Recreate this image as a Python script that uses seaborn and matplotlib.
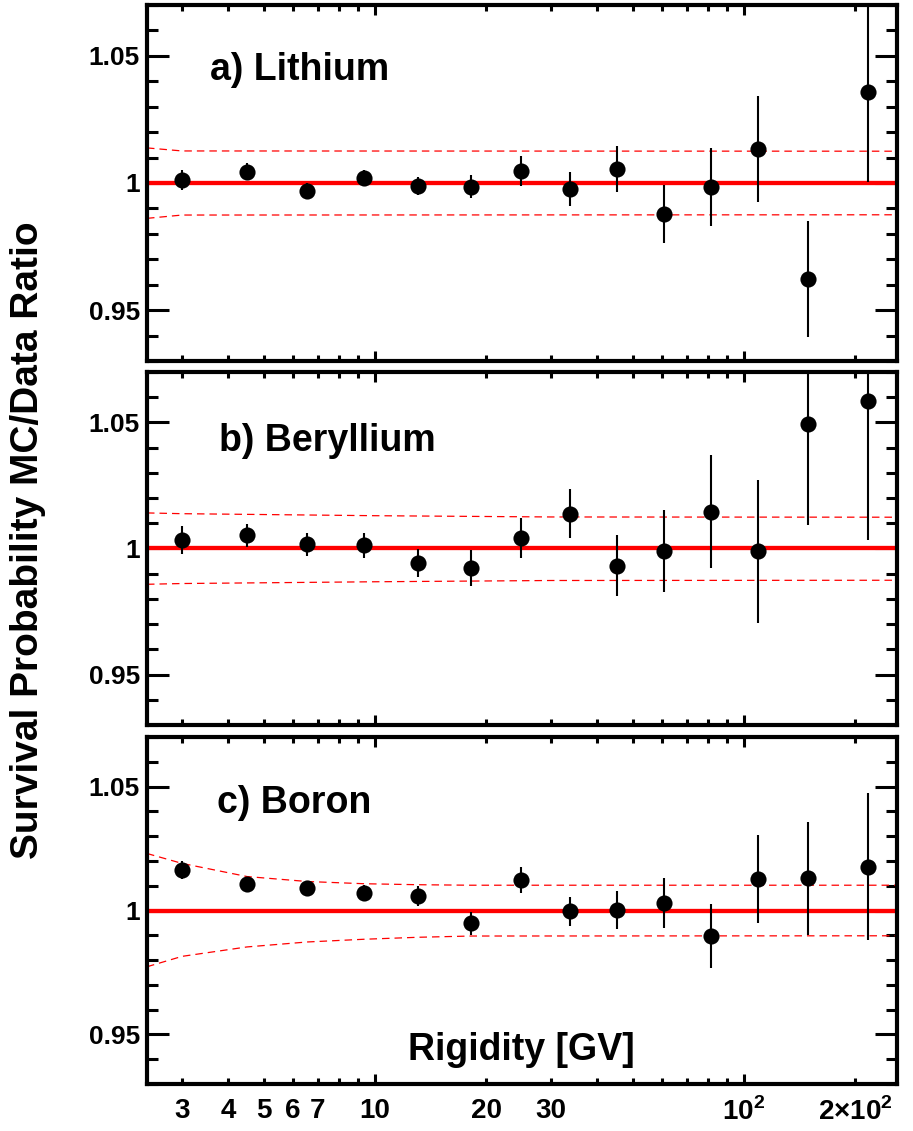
import numpy as np
import pandas as pd
import seaborn as sns
import matplotlib.pyplot as plt
from matplotlib.ticker import FixedLocator, FuncFormatter, MultipleLocator

sns.set_theme(style='ticks')
plt.rcParams['font.family'] = ['Liberation Sans', 'DejaVu Sans']
plt.rcParams['font.weight'] = 'bold'
plt.rcParams['mathtext.fontset'] = 'custom'
plt.rcParams['mathtext.rm'] = 'Liberation Sans:bold'
plt.rcParams['mathtext.bf'] = 'Liberation Sans:bold'
plt.rcParams['text.color'] = 'black'
plt.rcParams['axes.labelcolor'] = 'black'
plt.rcParams['xtick.color'] = 'black'
plt.rcParams['ytick.color'] = 'black'

# rigidity bin centres [GV]
rigidity = [3.0, 4.49, 6.55, 9.35, 13.1, 18.2, 24.9, 33.7, 45.4, 60.7, 81.2, 108.9, 149.6, 216.7]

li_ratio = [1.0012, 1.0045, 0.9969, 1.0021, 0.9988, 0.9985, 1.0047, 0.9978, 1.0055, 0.9878, 0.9983, 1.0134, 0.9622, 1.0359]
li_err = [0.0040, 0.0032, 0.0030, 0.0030, 0.0035, 0.0045, 0.0060, 0.0067, 0.0089, 0.0113, 0.0154, 0.0208, 0.0227, 0.0354]

be_ratio = [1.0033, 1.0052, 1.0017, 1.0012, 0.9942, 0.9922, 1.0042, 1.0138, 0.9932, 0.9991, 1.0146, 0.9989, 1.0495, 1.0584]
be_err = [0.0056, 0.0047, 0.0046, 0.0050, 0.0054, 0.0070, 0.0080, 0.0097, 0.0121, 0.0163, 0.0224, 0.0283, 0.0403, 0.0551]

b_ratio = [1.0164, 1.0106, 1.0091, 1.0072, 1.0059, 0.9948, 1.0122, 0.9996, 1.0003, 1.0030, 0.9898, 1.0127, 1.0131, 1.0176]
b_err = [0.0036, 0.0030, 0.0030, 0.0032, 0.0040, 0.0045, 0.0052, 0.0060, 0.0077, 0.0102, 0.0130, 0.0176, 0.0228, 0.0297]

# systematic bands (dashed)
li_band_r = [2.41, 3.0, 260]
li_band_hi = [1.0138, 1.0126, 1.0125]
li_band_lo = [0.9861, 0.9874, 0.9875]

be_band_r = [2.41, 3.0, 10, 30, 260]
be_band_hi = [1.0141, 1.0138, 1.0130, 1.0125, 1.0124]
be_band_lo = [0.9858, 0.9861, 0.9868, 0.9873, 0.9874]

b_band_r = [2.41, 3.0, 4.5, 6.55, 9.35, 13.1, 18.2, 260]
b_band_hi = [1.0230, 1.0190, 1.0137, 1.0117, 1.0108, 1.0104, 1.0102, 1.0102]
b_band_lo = [0.9773, 0.9815, 0.9853, 0.9873, 0.9884, 0.9892, 0.9897, 0.9898]

panels = [
    ('a) Lithium', li_ratio, li_err, li_band_r, li_band_hi, li_band_lo, (0.084, 0.789)),
    ('b) Beryllium', be_ratio, be_err, be_band_r, be_band_hi, be_band_lo, (0.096, 0.776)),
    ('c) Boron', b_ratio, b_err, b_band_r, b_band_hi, b_band_lo, (0.093, 0.781)),
]
rects = [
    [0.161, 0.6808, 0.8215, 0.3148],
    [0.161, 0.3590, 0.8215, 0.3121],
    [0.161, 0.04156, 0.8215, 0.3068],
]

minor_labels = {3: '3', 4: '4', 5: '5', 6: '6', 7: '7', 20: '20', 30: '30',
                200: r'$2{\times}10^{2}$'}

fig = plt.figure(figsize=(9.13, 11.31), dpi=100)

for i, (name, ratio, err, br, bhi, blo, tpos) in enumerate(panels):
    ax = fig.add_axes(rects[i])
    ax.set_xscale('log')
    df = pd.DataFrame({'R': rigidity, 'ratio': ratio, 'err': err})

    ax.axhline(1.0, color='#ff0000', lw=3.1, zorder=2)
    sns.lineplot(x=br, y=bhi, ax=ax, color='#ff0000', lw=0.9, linestyle=(0, (6, 4)), zorder=1)
    sns.lineplot(x=br, y=blo, ax=ax, color='#ff0000', lw=0.9, linestyle=(0, (6, 4)), zorder=1)
    ax.errorbar(df['R'], df['ratio'], yerr=df['err'], fmt='none', ecolor='black',
                elinewidth=1.5, capsize=0, zorder=3)
    sns.scatterplot(data=df, x='R', y='ratio', ax=ax, color='black', s=135,
                    linewidth=0, zorder=4)

    ax.set_xlim(2.41, 260)
    ax.set_ylim(0.93, 1.07)
    ax.set_xlabel('')
    ax.set_ylabel('')

    ax.yaxis.set_major_locator(FixedLocator([0.95, 1.0, 1.05]))
    ax.yaxis.set_major_formatter(FuncFormatter(lambda v, p: {0.95: '0.95', 1.0: '1', 1.05: '1.05'}.get(round(v, 2), '')))
    ax.yaxis.set_minor_locator(MultipleLocator(0.01))

    ax.xaxis.set_major_locator(FixedLocator([10, 100]))
    ax.xaxis.set_minor_locator(FixedLocator([3, 4, 5, 6, 7, 8, 9, 20, 30, 40, 50, 60, 70, 80, 90, 200]))
    if i == 2:
        ax.xaxis.set_major_formatter(FuncFormatter(lambda v, p: '10' if v < 50 else r'$10^{2}$'))
        ax.xaxis.set_minor_formatter(FuncFormatter(lambda v, p: minor_labels.get(int(round(v)), '')))
    else:
        ax.xaxis.set_major_formatter(FuncFormatter(lambda v, p: ''))
        ax.xaxis.set_minor_formatter(FuncFormatter(lambda v, p: ''))

    ax.tick_params(axis='both', which='both', direction='in', top=True, right=True,
                   width=2.2, color='black', labelcolor='black')
    ax.tick_params(axis='y', which='major', length=16, pad=5, labelsize=19)
    ax.tick_params(axis='y', which='minor', length=8)
    ax.tick_params(axis='x', which='major', length=7.5, pad=10, labelsize=20)
    ax.tick_params(axis='x', which='minor', length=4.5, pad=10, labelsize=20)
    for lab in ax.get_xticklabels(which='both') + ax.get_yticklabels():
        lab.set_fontweight('bold')
    for sp in ax.spines.values():
        sp.set_linewidth(3)
        sp.set_color('black')

    ax.text(tpos[0], tpos[1], name, transform=ax.transAxes, fontsize=27,
            fontweight='bold', ha='left', va='baseline', color='black')

    if i == 2:
        ax.set_xlabel('Rigidity [GV]', fontsize=27, fontweight='bold', color='black')
        ax.xaxis.set_label_coords(0.4993, 0.069)
        ax.xaxis.label.set_va('baseline')

fig.text(0.031, 0.5225, 'Survival Probability MC/Data Ratio', rotation=90,
         fontsize=28, fontweight='bold', ha='center', va='center', color='black')

fig.savefig('out.png', dpi=100)
